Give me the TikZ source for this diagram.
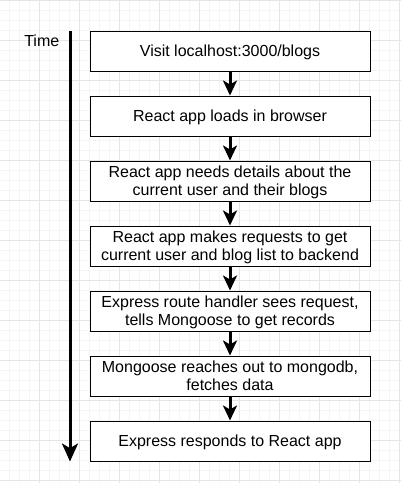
\documentclass[tikz,border=0pt]{standalone}
\usepackage{fontspec}
\setmainfont{Liberation Sans}
\usetikzlibrary{arrows.meta}
\begin{document}
\begin{tikzpicture}[x=0.75pt,y=-0.75pt,
  minorgrid/.style={draw=gray!8,line width=0.75pt},
  majorgrid/.style={draw=gray!20,line width=0.75pt},
  stepbox/.style={draw=black,line width=0.75pt,fill=white,minimum width=210pt,minimum height=30pt,inner sep=0pt},
  steptext/.style={inner sep=0pt,align=center,anchor=base,font=\fontsize{12pt}{13.75pt}\selectfont},
  flow/.style={draw=black,line width=2.25pt,-{Stealth[length=11.25pt,width=10.5pt,inset=3pt]}},
  timeline/.style={draw=black,line width=2.25pt,-{Stealth[length=13.5pt,width=12pt,inset=3.5pt]}}]
\useasboundingbox (0,0) rectangle (401,483);
\fill[white] (0,0) rectangle (401,483);
% grid
\foreach \i in {1,...,40} {\draw[minorgrid] (10*\i-0.5,0) -- (10*\i-0.5,483);}
\foreach \i in {1,...,48} {\draw[minorgrid] (0,10*\i+0.5) -- (401,10*\i+0.5);}
\foreach \i in {1,...,10} {\draw[majorgrid] (40*\i-0.5,0) -- (40*\i-0.5,483);}
\foreach \i in {0,...,12} {\draw[majorgrid] (0,40*\i+0.5) -- (401,40*\i+0.5);}
% time axis
\node[steptext,anchor=base east] (time) at (59.5,46.5) {Time};
\coordinate (ttop) at (70,31);
\coordinate (tbot) at (70,461.5);
\draw[timeline] (ttop) -- (tbot);
% boxes
\node[stepbox] (b1) at (230,51) {};
\node[stepbox] (b2) at (230,116) {};
\node[stepbox] (b3) at (230,181) {};
\node[stepbox] (b4) at (230,246) {};
\node[stepbox] (b5) at (230,311) {};
\node[stepbox] (b6) at (230,376) {};
\node[stepbox] (b7) at (230,441) {};
% connectors
\draw[flow] (b1.south) -- (b2.north);
\draw[flow] (b2.south) -- (b3.north);
\draw[flow] (b3.south) -- (b4.north);
\draw[flow] (b4.south) -- (b5.north);
\draw[flow] (b5.south) -- (b6.north);
\draw[flow] (b6.south) -- (b7.north);
% texts (anchor base = baseline of last line)
\node[steptext] (t1) at (230,56.7) {Visit localhost:3000/blogs};
\node[steptext] (t2) at (230,121.7) {React app loads in browser};
\node[steptext] (t3) at (230,195.9) {React app needs details about the\\current user and their blogs};
\node[steptext] (t4) at (230,260.9) {React app makes requests to get\\current user and blog list to backend};
\node[steptext] (t5) at (230,325.9) {Express route handler sees request,\\tells Mongoose to get records};
\node[steptext] (t6) at (230,390.9) {Mongoose reaches out to mongodb,\\fetches data};
\node[steptext] (t7) at (230,446.7) {Express responds to React app};
\end{tikzpicture}
\end{document}
